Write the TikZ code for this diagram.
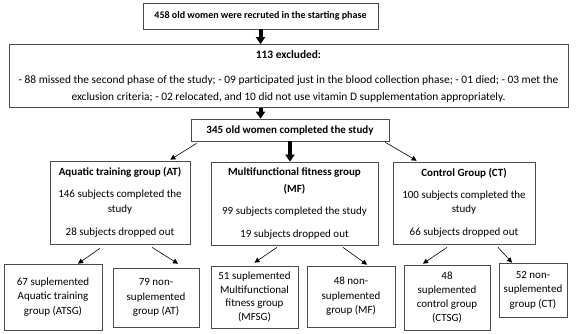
\documentclass[tikz,border=0pt]{standalone}
\usepackage{fontspec}
\setmainfont{Carlito}
\usetikzlibrary{arrows.meta,calc}
\begin{document}
\begin{tikzpicture}[x=1pt,y=-1pt,
  box/.style={draw=black!70,line width=0.7pt,inner sep=0pt,align=center,font=\fontsize{11}{14.5}\selectfont},
  bigarrow/.style={line width=4pt,-{Triangle[width=9pt,length=7pt]}},
  thinarrow/.style={line width=0.6pt,-{Triangle[width=5pt,length=5pt]}}]
\useasboundingbox (0,0) rectangle (578,333);
\node[box,minimum width=235pt,minimum height=26pt,font=\fontsize{10}{12}\selectfont\bfseries] (top) at (260.5,16) {458 old women were recruted in the starting phase};
\node[box,minimum width=559pt,minimum height=63pt,font=\fontsize{11.4}{17}\selectfont] (excl) at (288.5,76)
 {\textbf{113 excluded:}\\[8pt]- 88 missed the second phase of the study; - 09 participated just in the blood collection phase; - 01 died; - 03 met the\\exclusion criteria; - 02 relocated, and 10 did not use vitamin D supplementation appropriately.};
\node[box,minimum width=198pt,minimum height=22pt,font=\fontsize{11}{12}\selectfont\bfseries] (done) at (290,130) {345 old women completed the study};
\node[box,minimum width=140pt,minimum height=83pt] (at) at (120,202.5)
 {\textbf{Aquatic training group (AT)}\\[7.5pt]146 subjects completed the\\study\\[8.5pt]28 subjects dropped out};
\node[box,minimum width=167pt,minimum height=83pt] (mf) at (294.5,203.5)
 {\textbf{Multifunctional fitness group}\\[2.5pt]\textbf{(MF)}\\[7.5pt]99 subjects completed the study\\[8.5pt]19 subjects dropped out};
\node[box,minimum width=142pt,minimum height=82pt] (ct) at (464,203)
 {\textbf{Control Group (CT)}\\[7.5pt]100 subjects completed the\\study\\[8.5pt]66 subjects dropped out};
\node[box,minimum width=98pt,minimum height=66pt] (b1) at (53,297) {67 suplemented\\Aquatic training\\group (ATSG)};
\node[box,minimum width=86pt,minimum height=59pt] (b2) at (156,297.5) {79 non-\\suplemented\\group (AT)};
\node[box,minimum width=87pt,minimum height=62pt,font=\fontsize{11}{13.5}\selectfont] (b3) at (254.5,297) {51 suplemented\\Multifunctional\\fitness group\\(MFSG)};
\node[box,minimum width=88pt,minimum height=61pt] (b4) at (351,296.5) {48 non-\\suplemented\\group (MF)};
\node[box,minimum width=86pt,minimum height=65pt,font=\fontsize{11}{14}\selectfont] (b5) at (447,297.5) {48\\suplemented\\control group\\(CTSG)};
\node[box,minimum width=68pt,minimum height=54pt] (b6) at (533,290) {52 non-\\suplemented\\group (CT)};
\draw[bigarrow] (top.south) -- (excl.north -| top.south);
\draw[bigarrow] (excl.south -| top.south) -- (done.north -| top.south);
\draw[bigarrow] (done.south) -- (done.south |- mf.north);
\draw[thinarrow] ($(done.south west)+(6,2)$) -- ($(at.north east)+(-20,-1)$);
\draw[thinarrow] ($(done.south east)+(-4,1)$) -- ($(ct.north west)+(24,-1)$);
\draw[thinarrow] ($(at.south)+(-20,4)$) -- ($(b1.north)+(25,0)$);
\draw[thinarrow] ($(at.south)+(32,3)$) -- ($(b2.north)+(22,-4)$);
\draw[thinarrow] ($(mf.south)+(-17.5,2)$) -- ($(b3.north)+(0,-3)$);
\draw[thinarrow] ($(mf.south)+(48.5,2)$) -- ($(b4.north)+(16,-1)$);
\draw[thinarrow] ($(ct.south)+(-17,3)$) -- ($(b5.north)+(-24,-1)$);
\draw[thinarrow] ($(ct.south)+(34,3)$) -- ($(b6.north)+(-21,0)$);
\end{tikzpicture}
\end{document}
